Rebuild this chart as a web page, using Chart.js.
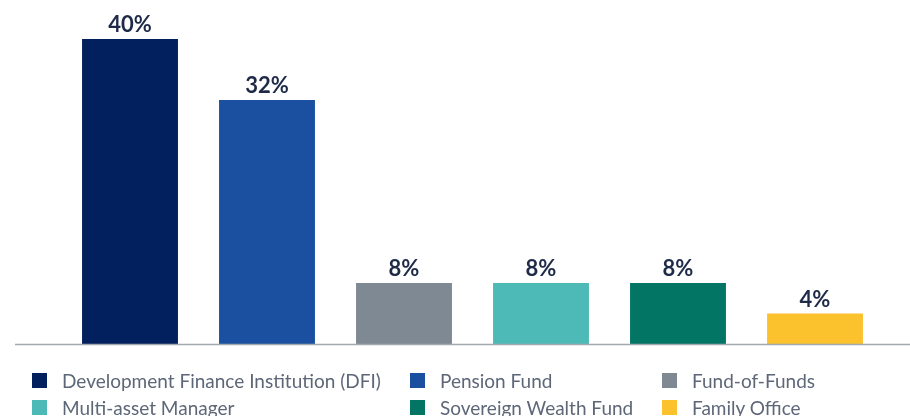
<!DOCTYPE html>
<html>
<head>
<meta charset="utf-8">
<script src="https://cdn.jsdelivr.net/npm/chart.js@4"></script>
<style>
  html, body { margin: 0; padding: 0; background: #ffffff; }
  #wrap { position: relative; width: 910px; height: 416px; overflow: hidden; }
  #chart { position: absolute; left: 0; top: 0; }
  .legend { position: absolute; left: 0; top: 0; width: 910px; height: 416px; pointer-events: none; }
  .item { position: absolute; display: flex; align-items: center; height: 20px;
          font-family: Lato, "Open Sans", sans-serif; font-size: 19px; color: #5d6778; white-space: nowrap; }
  .box { width: 15px; height: 15px; margin-right: 15px; flex: none; }
</style>
</head>
<body>
<div id="wrap">
  <canvas id="chart" width="910" height="416"></canvas>
  <div class="legend" id="legend"></div>
</div>
<script>
// Investor types and their share of commitments (%)
const categories = [
  'Development Finance Institution (DFI)',
  'Pension Fund',
  'Fund-of-Funds',
  'Multi-asset Manager',
  'Sovereign Wealth Fund',
  'Family Office'
];
const shares = [40, 32, 8, 8, 8, 4];
const colors = ['#021f5e', '#1b50a0', '#7e8994', '#4ebab8', '#027565', '#fcc22d'];

// Legend grid: 3 columns x 2 rows
const legendCols = [32, 410, 662];
const legendRows = [380, 407];

const legendEl = document.getElementById('legend');
categories.forEach((name, i) => {
  const item = document.createElement('div');
  item.className = 'item';
  item.style.left = legendCols[i % 3] + 'px';
  item.style.top = (legendRows[Math.floor(i / 3)] - 10) + 'px';
  const box = document.createElement('span');
  box.className = 'box';
  box.style.background = colors[i];
  const txt = document.createElement('span');
  txt.textContent = name;
  item.appendChild(box);
  item.appendChild(txt);
  legendEl.appendChild(item);
});

// Value labels above each bar, and a full-width baseline
const barExtras = {
  id: 'barExtras',
  afterDatasetsDraw(chart) {
    const ctx = chart.ctx;
    const meta = chart.getDatasetMeta(0);
    const yZero = chart.scales.y.getPixelForValue(0);
    ctx.save();
    ctx.strokeStyle = '#a3a9b0';
    ctx.lineWidth = 1.5;
    ctx.beginPath();
    ctx.moveTo(15, yZero + 0.5);
    ctx.lineTo(chart.width, yZero + 0.5);
    ctx.stroke();

    ctx.fillStyle = '#1e2a48';
    ctx.font = 'bold 22px Lato, "Open Sans", sans-serif';
    ctx.textAlign = 'center';
    ctx.textBaseline = 'alphabetic';
    meta.data.forEach((bar, i) => {
      ctx.fillText(shares[i] + '%', bar.x, bar.y - 7);
    });
    ctx.restore();
  }
};

new Chart(document.getElementById('chart'), {
  type: 'bar',
  data: {
    labels: categories,
    datasets: [{
      data: shares,
      backgroundColor: colors,
      borderWidth: 0,
      barPercentage: 0.7,
      categoryPercentage: 1.0
    }]
  },
  options: {
    responsive: false,
    animation: false,
    layout: { padding: { left: 61.5, right: 26.5, top: 39, bottom: 72 } },
    plugins: {
      legend: { display: false },
      tooltip: { enabled: false }
    },
    scales: {
      x: { display: false },
      y: { display: false, min: 0, max: 40 }
    }
  },
  plugins: [barExtras]
});
</script>
</body>
</html>
